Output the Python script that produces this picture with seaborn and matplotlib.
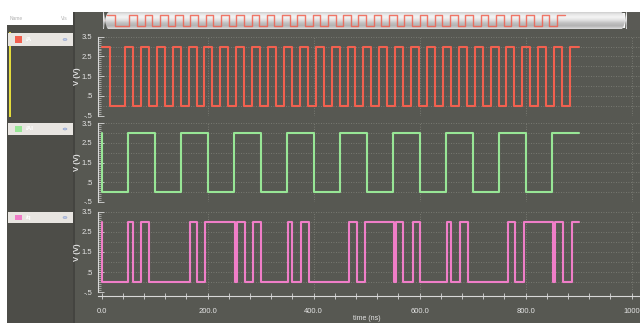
# chronogrammes : horloge rapide, horloge lente et donnée
import numpy as np
import pandas as pd
import matplotlib
matplotlib.use("Agg")
import matplotlib.pyplot as plt
import seaborn as sns
from matplotlib.patches import Rectangle, FancyBboxPatch, Circle
from matplotlib.colors import LinearSegmentedColormap

# fronts (ns)
red_rise = [0, 44, 74, 104, 134, 164, 194, 224, 254, 284, 314, 344, 374, 404, 434,
            464, 494, 524, 554, 584, 614, 644, 674, 704, 734, 764, 794, 824, 854, 884]
red_fall = [15, 59, 89, 119, 149, 179, 209, 239, 269, 299, 329, 359, 389, 419, 449,
            479, 509, 539, 569, 599, 629, 659, 689, 719, 749, 779, 809, 839, 869]

green_rise = [50, 150, 250, 350, 450, 550, 650, 750, 850]
green_fall = [0, 100, 200, 300, 400, 500, 600, 700, 800]

pink_rise = [50, 75, 166, 195, 255, 286, 352, 377, 467, 497, 556, 588, 651, 677,
             767, 797, 855, 887]
pink_fall = [0, 59, 90, 180, 251, 270, 300, 360, 391, 481, 551, 569, 600, 660,
             692, 781, 852, 871]

t_end = 900
v_high = 3.0
v_low = 0.0

signal_names = ["/A", "/Al", "/q"]
y_ticks = [-0.5, 0.5, 1.5, 2.5, 3.5]
y_ticklabels = ["-.5", ".5", "1.5", "2.5", "3.5"]
x_ticks = [0, 200, 400, 600, 800, 1000]
x_ticklabels = ["0.0", "200.0", "400.0", "600.0", "800.0", "1000"]

# couleurs
bg_plot = "#575852"
bg_side = "#4d4d48"
col_red = "#f2604f"
col_green = "#98e696"
col_pink = "#f07ec8"
col_grid = "#83847c"
col_txt = "#e4e4e4"

W, H = 640, 323


def box(x0, y0, x1, y1):
    # boîte en pixels -> fraction de figure
    return [x0 / W, 1 - y1 / H, (x1 - x0) / W, (y1 - y0) / H]


def steps(rise, fall):
    ev = sorted([(t, v_high) for t in rise] + [(t, v_low) for t in fall],
                key=lambda e: e[0])
    t = [0] + [e[0] for e in ev] + [t_end]
    v = [v_high] + [e[1] for e in ev] + [ev[-1][1]]
    return pd.DataFrame({"t": t, "v": v})


def rect(x0, y0, x1, y1, color, z=-5):
    fig.patches.append(Rectangle((x0 / W, 1 - y1 / H), (x1 - x0) / W, (y1 - y0) / H,
                                 transform=fig.transFigure, facecolor=color,
                                 edgecolor="none", zorder=z))


def dot(x, y, r, color, ec="none"):
    fig.patches.append(Circle((x / W, 1 - y / H), r / W, transform=fig.transFigure,
                              facecolor=color, edgecolor=ec, lw=0.3, zorder=-4))


sns.set_theme(style="dark")
plt.rcParams["font.family"] = ["Liberation Sans", "DejaVu Sans"]

fig = plt.figure(figsize=(W / 100, H / 100), dpi=100)
fig.patch.set_facecolor("white")

# fonds
rect(74, 12, 640, 323, bg_plot, z=-10)
rect(7, 25, 73, 323, bg_side, z=-10)
rect(73, 12, 74.5, 323, "#444440", z=-9)
fig.text(10 / W, 1 - 18 / H, "Name", fontsize=3.5, color="#b0b0b0", va="center")
fig.text(61 / W, 1 - 18 / H, "Vis", fontsize=3.5, color="#b0b0b0", va="center")
rect(9.3, 32, 11, 117, "#e4dc3c")

signals = [
    (steps(red_rise, red_fall), col_red, (36.7, 115.5), 33, 46),
    (steps(green_rise, green_fall), col_green, (123.3, 201.7), 123, 135),
    (steps(pink_rise, pink_fall), col_pink, (211.7, 292.3), 212, 223),
]

axes = []
for i, (df, col, (y0, y1), b0, b1) in enumerate(signals):
    ax = fig.add_axes(box(98, y0, 640, y1))
    ax.set_facecolor("none")
    for gy in np.arange(-0.5, 3.51, 0.5):
        ax.axhline(gy, color=col_grid, lw=0.6, ls=(0, (1, 2)), zorder=0)
    for gx in x_ticks[1:]:
        ax.axvline(gx, color=col_grid, lw=0.6, ls=(0, (1, 2)), zorder=0)
    sns.lineplot(data=df, x="t", y="v", drawstyle="steps-post", estimator=None,
                 sort=False, color=col, linewidth=1.5, legend=False, ax=ax)
    ax.set_xlim(-7, 1016)
    ax.set_ylim(-0.5, 3.5)
    ax.set_xlabel("")
    ax.set_ylabel("")
    ax.set_yticks(y_ticks)
    ax.set_yticklabels(y_ticklabels)
    ax.set_yticks(np.arange(-0.5, 3.51, 0.1), minor=True)
    ax.tick_params(axis="y", which="major", direction="in", length=4, width=0.6,
                   color="#d8d8d8", labelcolor=col_txt, labelsize=5.5, pad=4, left=True)
    ax.tick_params(axis="y", which="minor", direction="in", length=2, width=0.4,
                   color="#d8d8d8", left=True)
    for s in ["top", "right", "bottom"]:
        ax.spines[s].set_visible(False)
    ax.spines["left"].set_color("#d8d8d8")
    ax.spines["left"].set_linewidth(0.8)
    ax.grid(False)
    if i < 2:
        ax.set_xticks([])
    else:
        ax.spines["bottom"].set_visible(True)
        ax.spines["bottom"].set_position(("outward", 3))
        ax.spines["bottom"].set_color("#d8d8d8")
        ax.spines["bottom"].set_linewidth(0.8)
        ax.set_xticks(x_ticks)
        ax.set_xticklabels(x_ticklabels)
        ax.set_xticks(np.arange(0, 1001, 40), minor=True)
        ax.tick_params(axis="x", which="both", direction="inout", length=4, width=0.6,
                       color="#d8d8d8", labelcolor=col_txt, labelsize=5.5, pad=6,
                       bottom=True)
    fig.text(77.5 / W, 1 - (y0 + y1) / 2 / H, "V (V)", rotation=90, fontsize=5.5,
             color=col_txt, ha="center", va="center", fontweight="bold")
    # barre du nom dans la colonne de gauche
    rect(8, b0, 73, b1, "#e8e5e1")
    rect(15, b0 + 3, 22, b1 - 3, col, z=-4)
    fig.text(26 / W, 1 - (b0 + b1) / 2 / H, signal_names[i], fontsize=4.5,
             color="white", va="center", fontweight="bold")
    dot(65, (b0 + b1) / 2, 2, "#b8c8e8", ec="#8090c0")
    axes.append(ax)

fig.text(367 / W, 1 - 319 / H, "time (ns)", fontsize=5, color=col_txt,
         ha="center", va="center")

# barre d'aperçu en haut
ov = fig.add_axes(box(103, 12, 627, 29.5))
ov.set_xlim(-7.9, 1021.6)
ov.set_ylim(-0.82, 3.82)
grad_cmap = LinearSegmentedColormap.from_list(
    "g", ["#c4c4c4", "#e6e6e6", "#f4f4f4", "#e2e2e2", "#c2c2c2", "#b2b2b2", "#dcdcdc"])
img = ov.imshow(np.linspace(0, 1, 50).reshape(-1, 1), extent=[-7.9, 1021.6, -0.82, 3.82],
                aspect="auto", cmap=grad_cmap, origin="upper", zorder=0)
clip = FancyBboxPatch((-7.9, -0.82), 1029.5, 4.64,
                      boxstyle="round,pad=0,rounding_size=12", transform=ov.transData,
                      facecolor="none", edgecolor="none")
ov.add_patch(clip)
img.set_clip_path(clip)
sns.lineplot(data=signals[0][0], x="t", y="v", drawstyle="steps-post", estimator=None,
             sort=False, color="#f0604f", linewidth=1.0, alpha=0.85, legend=False, ax=ov)
ov.axis("off")
dot(104.5, 20.5, 1.6, "#f04040")
rect(620, 13, 625, 28, "#f6f6f6", z=-3)
rect(626, 12, 640, 30, "#5a5a55", z=-3)
dot(629.5, 20.5, 1.5, "#f04040")

fig.savefig("out.png", dpi=100)
